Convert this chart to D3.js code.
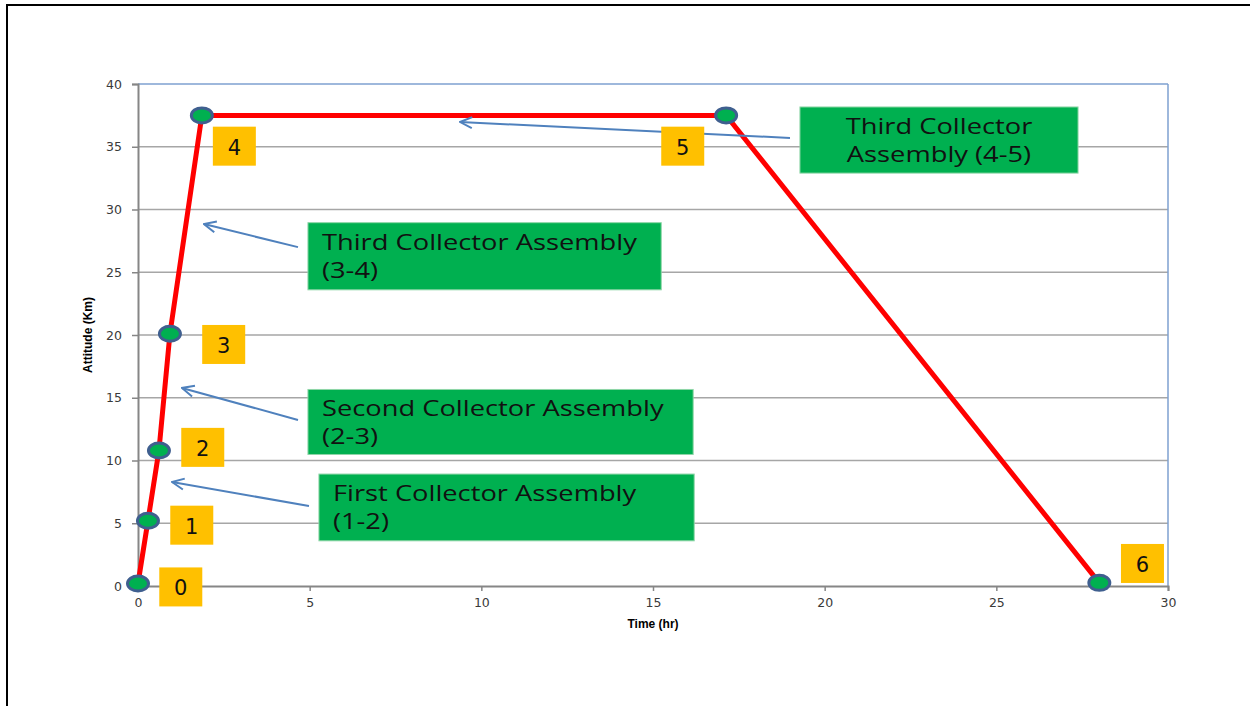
<!DOCTYPE html>
<html>
<head>
<meta charset="utf-8">
<script src="https://cdn.jsdelivr.net/npm/d3@7"></script>
<style>
  body { margin: 0; background: #fff; }
  svg { display: block; }
</style>
</head>
<body>
<div id="chart"></div>
<script>
// flight profile points (time in hr, altitude in km)
const times = [0, 0.29, 0.61, 0.93, 1.86, 17.13, 28.0];
const altitudes = [0.2, 5.2, 10.8, 20.1, 37.5, 37.5, 0.25];
const pointLabels = ["0", "1", "2", "3", "4", "5", "6"];
// label box anchor (top-left) in data units
const labelX = [0.62, 0.94, 1.26, 1.87, 2.18, 15.24, 28.63];
const labelY = [1.48, 6.4, 12.6, 20.8, 36.6, 36.6, 3.35];

const xTicks = [0, 5, 10, 15, 20, 25, 30];
const yTicks = [0, 5, 10, 15, 20, 25, 30, 35, 40];

// callouts: text lines, box corners and arrow in data units
const calloutLines = [
  ["Third Collector", "Assembly (4-5)"],
  ["Third Collector Assembly", "(3-4)"],
  ["Second Collector Assembly", "(2-3)"],
  ["First Collector Assembly", "(1-2)"]
];
const calloutAlign = ["middle", "start", "start", "start"];
const boxX0 = [19.28, 4.95, 4.95, 5.27];
const boxX1 = [27.38, 15.24, 16.17, 16.2];
const boxY0 = [38.17, 28.95, 15.66, 8.92];
const boxY1 = [32.9, 23.6, 10.48, 3.6];
const arrowFromX = [18.99, 4.66, 4.66, 4.98];
const arrowFromY = [35.7, 27.0, 13.23, 6.37];
const arrowToX = [9.38, 1.92, 1.28, 0.99];
const arrowToY = [36.97, 28.84, 15.78, 8.29];

const width = 1250, height = 706;
const margin = { left: 138, right: 82, top: 84, bottom: 120 };

const svg = d3.select("#chart").append("svg")
  .attr("width", width).attr("height", height);

// outer frame
svg.append("rect")
  .attr("x", 7).attr("y", 5)
  .attr("width", 1260).attr("height", 720)
  .attr("fill", "none").attr("stroke", "#000").attr("stroke-width", 2);

const x = d3.scaleLinear().domain([0, 30]).range([margin.left, width - margin.right]);
const y = d3.scaleLinear().domain([0, 40]).range([height - margin.bottom, margin.top]);

svg.append("defs").append("marker")
  .attr("id", "arrow")
  .attr("viewBox", "0 0 14 14")
  .attr("refX", 13).attr("refY", 7)
  .attr("markerWidth", 14).attr("markerHeight", 14)
  .attr("markerUnits", "userSpaceOnUse")
  .attr("orient", "auto")
  .append("path")
  .attr("d", "M1,1.5 L13,7 L1,12.5")
  .attr("fill", "none").attr("stroke", "#4f81bd").attr("stroke-width", 2);

// gridlines
svg.append("g").selectAll("line")
  .data(yTicks.slice(1))
  .join("line")
  .attr("x1", x(0)).attr("x2", x(30))
  .attr("y1", d => y(d)).attr("y2", d => y(d))
  .attr("stroke", d => d === 40 ? "#7ea1d0" : "#a6a6a6")
  .attr("stroke-width", 1.5);

svg.append("line")
  .attr("x1", x(30)).attr("x2", x(30))
  .attr("y1", y(0)).attr("y2", y(40))
  .attr("stroke", "#7ea1d0").attr("stroke-width", 1.5);

// axes
const yAxis = svg.append("g")
  .attr("transform", `translate(${x(0)},0)`)
  .call(d3.axisLeft(y).tickValues(yTicks).tickSize(6).tickPadding(10));
const xAxis = svg.append("g")
  .attr("transform", `translate(0,${y(0)})`)
  .call(d3.axisBottom(x).tickValues(xTicks).tickSize(5).tickPadding(7));

[xAxis, yAxis].forEach(a => {
  a.select(".domain").attr("stroke", "#868686").attr("stroke-width", 2);
  a.selectAll(".tick line").attr("stroke", "#868686").attr("stroke-width", 1.5);
  a.selectAll(".tick text")
    .attr("fill", "#3a3a3a")
    .style("font-family", "'DejaVu Sans', Verdana, sans-serif")
    .style("font-size", "12.5px");
});

svg.append("text")
  .attr("x", x(15)).attr("y", 628)
  .attr("text-anchor", "middle")
  .style("font-family", "'Liberation Sans Narrow', 'Liberation Sans', Arial, sans-serif")
  .style("font-size", "12px").style("font-weight", "bold")
  .text("Time (hr)");

svg.append("text")
  .attr("transform", `translate(92,${y(20)}) rotate(-90)`)
  .attr("text-anchor", "middle")
  .style("font-family", "'Liberation Sans Narrow', 'Liberation Sans', Arial, sans-serif")
  .style("font-size", "12px").style("font-weight", "bold")
  .text("Attitude (Km)");

const pts = times.map((t, i) => ({ t, a: altitudes[i], label: pointLabels[i], lx: labelX[i], ly: labelY[i] }));

// flight line
svg.append("path")
  .datum(pts)
  .attr("fill", "none")
  .attr("stroke", "#ff0000")
  .attr("stroke-width", 5)
  .attr("d", d3.line().x(d => x(d.t)).y(d => y(d.a)));

// callout arrows
svg.append("g").selectAll("line")
  .data(arrowFromX.map((v, i) => i))
  .join("line")
  .attr("x1", i => x(arrowFromX[i])).attr("y1", i => y(arrowFromY[i]))
  .attr("x2", i => x(arrowToX[i])).attr("y2", i => y(arrowToY[i]))
  .attr("stroke", "#4f81bd").attr("stroke-width", 2)
  .attr("marker-end", "url(#arrow)");

// markers
svg.append("g").selectAll("ellipse")
  .data(pts)
  .join("ellipse")
  .attr("cx", d => x(d.t)).attr("cy", d => y(d.a))
  .attr("rx", 10.5).attr("ry", 7.5)
  .attr("fill", "#00b050")
  .attr("stroke", "#3f5f8f").attr("stroke-width", 3);

// point number boxes
const nb = svg.append("g").selectAll("g")
  .data(pts)
  .join("g")
  .attr("transform", d => `translate(${x(d.lx)},${y(d.ly)})`);
nb.append("rect")
  .attr("width", 43).attr("height", 39)
  .attr("fill", "#ffc000");
nb.append("text")
  .attr("x", 21.5).attr("y", 28)
  .attr("text-anchor", "middle")
  .style("font-family", "'DejaVu Sans', Verdana, sans-serif")
  .style("font-size", "21px")
  .attr("fill", "#111")
  .text(d => d.label);

// callout boxes
const cb = svg.append("g").selectAll("g")
  .data(calloutLines.map((l, i) => i))
  .join("g");
cb.append("rect")
  .attr("x", i => x(boxX0[i])).attr("y", i => y(boxY0[i]))
  .attr("width", i => x(boxX1[i]) - x(boxX0[i]))
  .attr("height", i => y(boxY1[i]) - y(boxY0[i]))
  .attr("fill", "#00b050")
  .attr("stroke", "#8fd6a8").attr("stroke-width", 1);
cb.each(function(i) {
  const g = d3.select(this);
  const bx0 = x(boxX0[i]), bx1 = x(boxX1[i]), by0 = y(boxY0[i]);
  const tx = calloutAlign[i] === "middle" ? (bx0 + bx1) / 2 : bx0 + 14;
  calloutLines[i].forEach((line, j) => {
    g.append("text")
      .attr("transform", `translate(${tx},${by0 + 27 + j * 28}) scale(1.27,1)`)
      .attr("text-anchor", calloutAlign[i])
      .style("font-family", "'Open Sans', sans-serif")
      .style("font-size", "21.5px")
      .attr("fill", "#111")
      .text(line);
  });
});
</script>
</body>
</html>
